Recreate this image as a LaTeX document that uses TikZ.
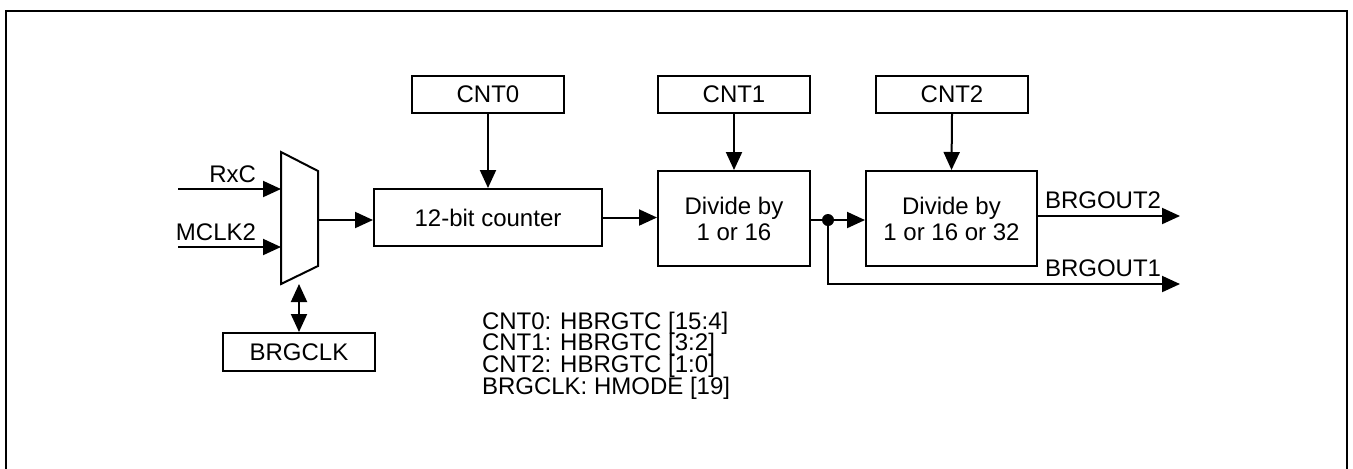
\documentclass[tikz,border=0pt]{standalone}
\usepackage{fontspec}
\setmainfont{Liberation Sans}
\usetikzlibrary{arrows.meta}
\begin{document}
\begin{tikzpicture}[x=0.5pt,y=-0.5pt,
  line width=1pt,
  every node/.style={font=\fontsize{12}{13}\selectfont},
  box/.style={draw, line width=1pt, inner sep=0pt, align=center},
  arr/.style={-{Triangle[length=9pt,width=8pt]}},
  darr/.style={{Triangle[length=9pt,width=8pt]}-{Triangle[length=9pt,width=8pt]}},
  lbl/.style={inner sep=0pt}]
\useasboundingbox (0,0) rectangle (1353,468);
% frame
\draw[line width=1.4pt] (6,470) -- (6,11) -- (1347,11) -- (1347,470);
% boxes
\node[box, minimum width=76pt, minimum height=18.5pt] (cnt0) at (488,94.5) {CNT0};
\node[box, minimum width=76pt, minimum height=18.5pt] (cnt1) at (734,94.5) {CNT1};
\node[box, minimum width=76pt, minimum height=18.5pt] (cnt2) at (952,94.5) {CNT2};
\node[box, minimum width=114pt, minimum height=28.5pt] (counter) at (488,217.5) {12-bit counter};
\node[box, minimum width=76pt, minimum height=47.5pt] (div1) at (734,218.5) {Divide by\\1 or 16};
\node[box, minimum width=85.5pt, minimum height=47.5pt] (div2) at (951.5,218.5) {Divide by\\1 or 16 or 32};
\node[box, minimum width=76pt, minimum height=19pt] (brgclk) at (299,352) {BRGCLK};
% mux
\coordinate (m1) at (281,152);
\coordinate (m2) at (318,171);
\coordinate (m3) at (318,266);
\coordinate (m4) at (281,284);
\draw (m1) -- (m2) -- (m3) -- (m4) -- cycle;
\coordinate (muxout) at (318,220);
\coordinate (muxbot) at (299,284);
\coordinate (rxin) at (178,189);
\coordinate (rxend) at (281,189);
\coordinate (mcin) at (178,247);
\coordinate (mcend) at (281,247);
\draw[arr] (rxin) -- (rxend);
\draw[arr] (mcin) -- (mcend);
\node[lbl, anchor=base east] (rxc) at (257,182) {RxC};
\node[lbl, anchor=base east] (mclk2) at (257,240) {MCLK2};
\draw[darr] (muxbot) -- (brgclk.north);
\draw[arr] (muxout) -- (counter.west |- muxout);
% control arrows
\draw[arr] (cnt0.south) -- (counter.north);
\draw[arr] (cnt1.south) -- (div1.north);
\draw[arr] (cnt2.south) -- (div2.north);
% chain
\draw[arr] (counter.east) -- (counter.east -| div1.west);
\coordinate (dot) at (828,220);
\draw[arr] (div1.east |- dot) -- (dot) -- (dot -| div2.west);
\fill (dot) circle (6);
\coordinate (out2) at (1180,216);
\coordinate (out1) at (1180,284);
\draw[arr] (div2.east |- out2) -- (out2);
\draw[arr] (dot) |- (out1);
\node[lbl, anchor=base west] (bo2) at (1044,208) {BRGOUT2};
\node[lbl, anchor=base west] (bo1) at (1044,276) {BRGOUT1};
% register legend
\node[lbl, anchor=base west] (t1) at (481,329) {CNT0: HBRGTC [15:4]};
\node[lbl, anchor=base west] (t2) at (481,350.7) {CNT1: HBRGTC [3:2]};
\node[lbl, anchor=base west] (t3) at (481,372.4) {CNT2: HBRGTC [1:0]};
\node[lbl, anchor=base west] (t4) at (481,394) {BRGCLK: HMODE [19]};
\end{tikzpicture}
\end{document}
